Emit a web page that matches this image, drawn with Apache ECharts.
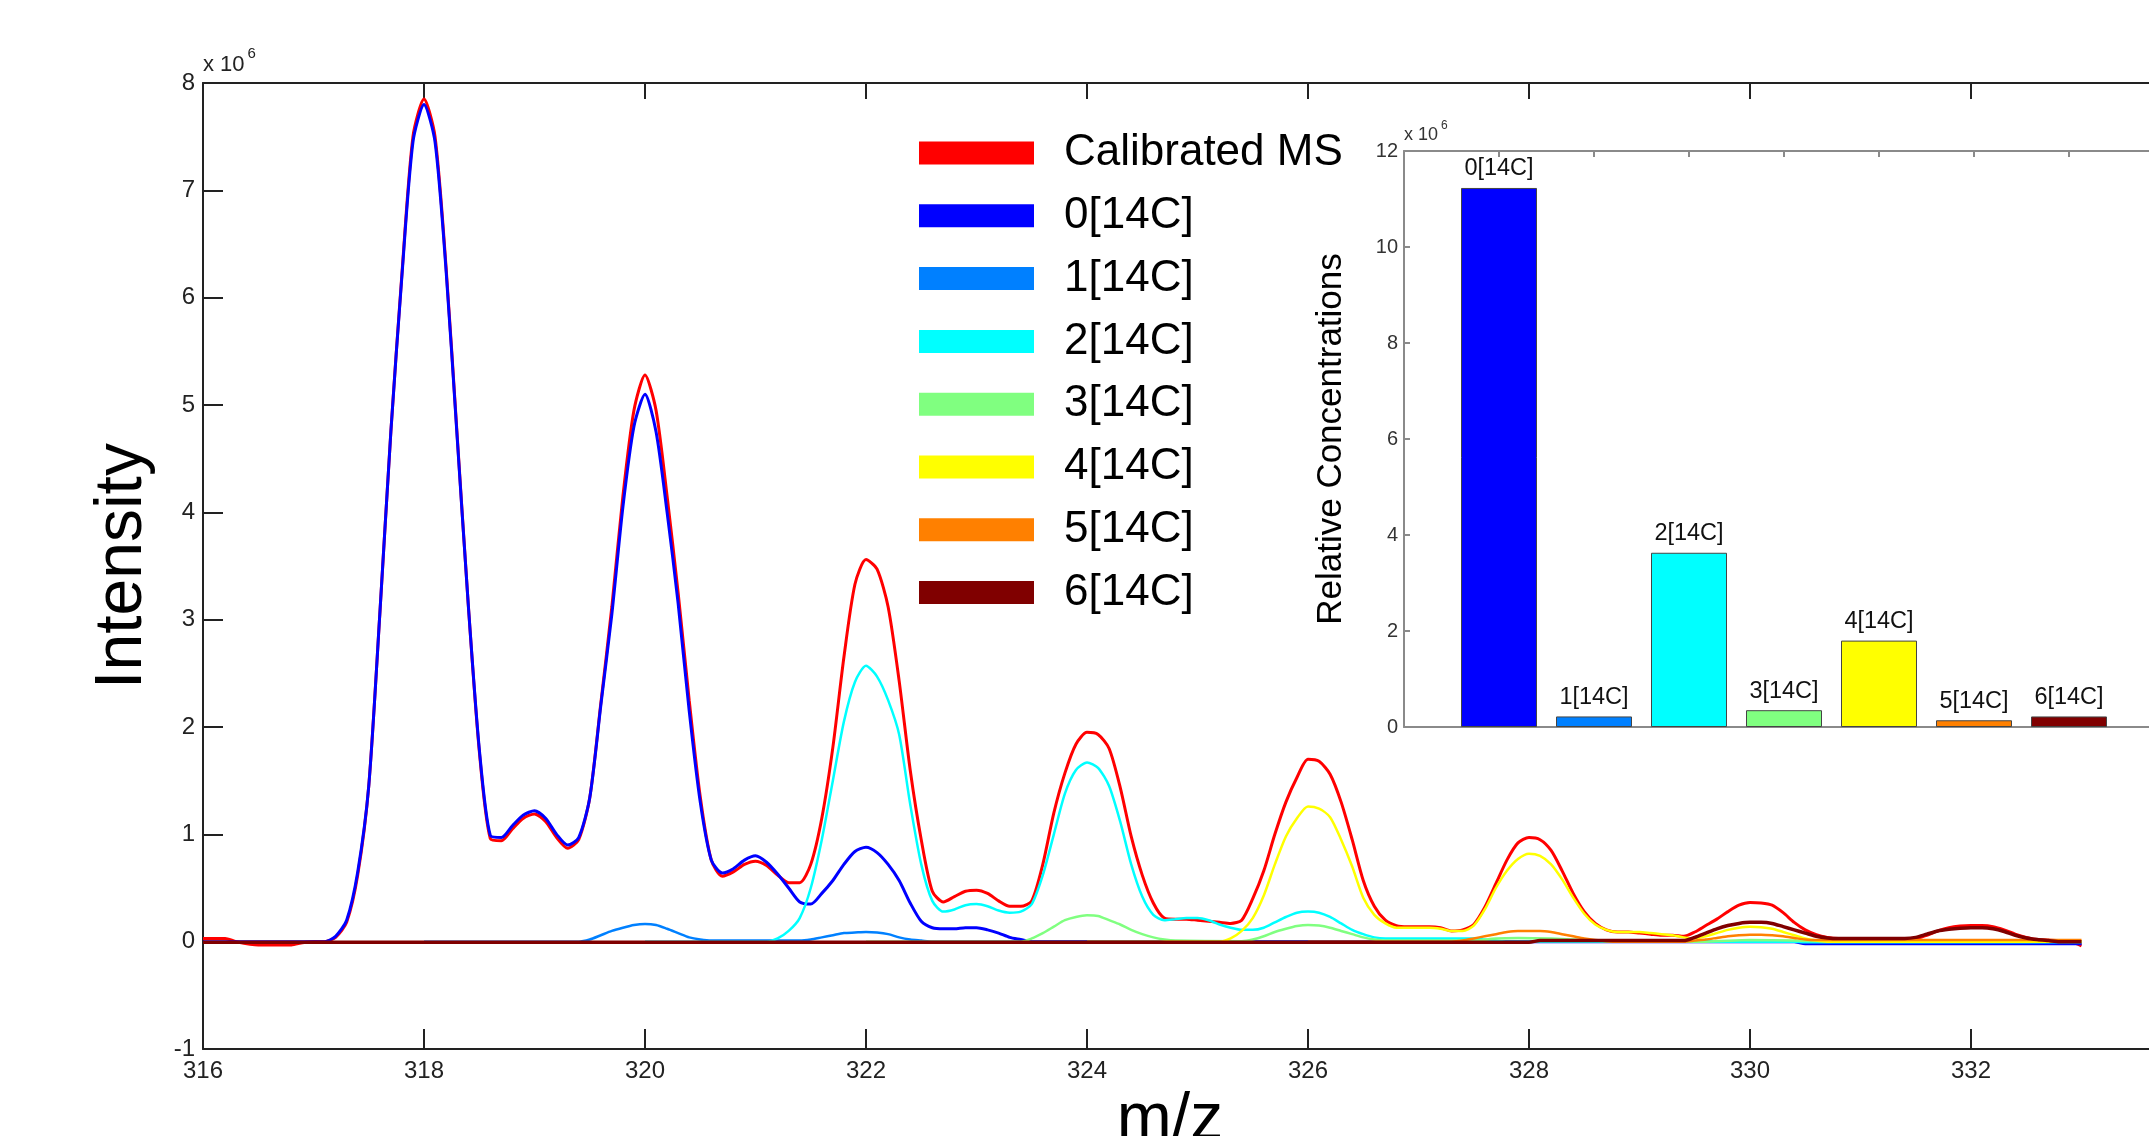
<!DOCTYPE html>
<html>
<head>
<meta charset="utf-8">
<title>Calibrated MS</title>
<script src="https://cdn.jsdelivr.net/npm/echarts@6/dist/echarts.min.js"></script>
<style>
html, body {margin: 0; padding: 0; background: #fff;}
#chart {width: 2149px; height: 1136px;}
</style>
</head>
<body>
<div id="chart"></div>
<script>
// intensities in units of 10^6
var calibrated = [[316.0,0.03],[316.2,0.03],[316.3,0.0],[316.5,-0.03],[316.8,-0.03],[316.9,-0.01],[317.0,0],[317.1,0],[317.2,0.04],[317.3,0.18],[317.4,0.62],[317.5,1.45],[317.6,3.05],[317.7,4.75],[317.8,6.22],[317.9,7.5],[318.0,7.85],[318.1,7.5],[318.2,6.28],[318.3,4.72],[318.4,3.15],[318.5,1.78],[318.6,0.96],[318.7,0.94],[318.8,1.05],[318.9,1.15],[319.0,1.19],[319.1,1.12],[319.2,0.97],[319.3,0.87],[319.4,0.95],[319.5,1.34],[319.6,2.22],[319.7,3.12],[319.8,4.15],[319.9,4.95],[320.0,5.28],[320.1,4.95],[320.2,4.15],[320.3,3.25],[320.4,2.25],[320.5,1.35],[320.6,0.76],[320.7,0.61],[320.8,0.65],[320.9,0.72],[321.0,0.75],[321.1,0.71],[321.2,0.62],[321.3,0.55],[321.4,0.55],[321.5,0.72],[321.6,1.15],[321.7,1.81],[321.8,2.65],[321.9,3.33],[322.0,3.56],[322.1,3.47],[322.2,3.12],[322.3,2.43],[322.4,1.6],[322.5,0.95],[322.6,0.47],[322.7,0.37],[322.8,0.42],[322.9,0.47],[323.0,0.48],[323.1,0.45],[323.2,0.38],[323.3,0.33],[323.4,0.33],[323.5,0.38],[323.6,0.72],[323.7,1.2],[323.8,1.57],[323.9,1.84],[324.0,1.95],[324.1,1.93],[324.2,1.8],[324.3,1.44],[324.4,0.98],[324.5,0.62],[324.6,0.36],[324.7,0.22],[324.8,0.21],[324.9,0.21],[325.0,0.2],[325.1,0.19],[325.2,0.18],[325.3,0.17],[325.4,0.2],[325.5,0.4],[325.6,0.66],[325.7,1.0],[325.8,1.3],[325.9,1.53],[326.0,1.7],[326.1,1.68],[326.2,1.56],[326.3,1.3],[326.4,0.95],[326.5,0.57],[326.6,0.33],[326.7,0.2],[326.8,0.15],[326.9,0.14],[327.1,0.14],[327.2,0.13],[327.3,0.1],[327.4,0.11],[327.5,0.16],[327.6,0.32],[327.7,0.54],[327.8,0.76],[327.9,0.92],[328.0,0.97],[328.1,0.95],[328.2,0.85],[328.3,0.66],[328.4,0.45],[328.5,0.28],[328.6,0.17],[328.7,0.11],[328.8,0.09],[328.9,0.09],[329.0,0.08],[329.1,0.07],[329.2,0.06],[329.3,0.06],[329.4,0.05],[329.5,0.09],[329.6,0.15],[329.7,0.21],[329.8,0.28],[329.9,0.34],[330.0,0.365],[330.1,0.36],[330.2,0.34],[330.3,0.27],[330.4,0.18],[330.5,0.11],[330.6,0.065],[330.7,0.04],[330.8,0.03],[331.5,0.03],[331.6,0.06],[331.7,0.1],[331.8,0.13],[331.9,0.145],[332.0,0.15],[332.1,0.15],[332.2,0.14],[332.3,0.11],[332.4,0.07],[332.5,0.04],[332.6,0.02],[332.8,0.01],[332.9,0.0],[333.0,-0.04]];
var c14_0 = [[316.0,0],[317.1,0],[317.2,0.05],[317.3,0.2],[317.4,0.65],[317.5,1.45],[317.6,3.05],[317.7,4.75],[317.8,6.2],[317.9,7.45],[318.0,7.8],[318.1,7.45],[318.2,6.25],[318.3,4.7],[318.4,3.15],[318.5,1.8],[318.6,0.99],[318.7,0.97],[318.8,1.08],[318.9,1.18],[319.0,1.22],[319.1,1.15],[319.2,1.0],[319.3,0.9],[319.4,0.97],[319.5,1.34],[319.6,2.2],[319.7,3.05],[319.8,4.05],[319.9,4.8],[320.0,5.1],[320.1,4.75],[320.2,4.0],[320.3,3.15],[320.4,2.15],[320.5,1.3],[320.6,0.76],[320.7,0.64],[320.8,0.68],[320.9,0.76],[321.0,0.8],[321.1,0.74],[321.2,0.63],[321.3,0.5],[321.4,0.37],[321.5,0.35],[321.6,0.45],[321.7,0.57],[321.8,0.72],[321.9,0.84],[322.0,0.88],[322.1,0.83],[322.2,0.72],[322.3,0.57],[322.4,0.36],[322.5,0.19],[322.6,0.13],[322.7,0.12],[322.8,0.12],[322.9,0.13],[323.0,0.13],[323.1,0.11],[323.2,0.08],[323.3,0.04],[323.4,0.02],[323.5,0],[330.4,0],[330.5,-0.02],[333.0,-0.02]];
var c14_1 = [[318.0,0],[319.4,0],[319.5,0.02],[319.6,0.06],[319.7,0.1],[319.8,0.13],[319.9,0.155],[320.0,0.165],[320.1,0.155],[320.2,0.12],[320.3,0.08],[320.4,0.04],[320.5,0.02],[320.6,0.01],[321.4,0.01],[321.5,0.02],[321.6,0.04],[321.7,0.06],[321.8,0.08],[321.9,0.085],[322.0,0.09],[322.1,0.085],[322.2,0.07],[322.3,0.04],[322.4,0.02],[322.5,0.01],[322.6,0],[330.4,0],[330.5,-0.01],[333.0,-0.01]];
var c14_2 = [[320.0,0],[321.1,0],[321.2,0.03],[321.3,0.1],[321.4,0.22],[321.5,0.5],[321.6,0.95],[321.7,1.5],[321.8,2.05],[321.9,2.42],[322.0,2.57],[322.1,2.47],[322.2,2.25],[322.3,1.93],[322.4,1.28],[322.5,0.72],[322.6,0.38],[322.7,0.28],[322.8,0.3],[322.9,0.34],[323.0,0.35],[323.1,0.33],[323.2,0.29],[323.3,0.27],[323.4,0.28],[323.5,0.35],[323.6,0.62],[323.7,1.0],[323.8,1.38],[323.9,1.6],[324.0,1.67],[324.1,1.62],[324.2,1.45],[324.3,1.12],[324.4,0.72],[324.5,0.42],[324.6,0.25],[324.7,0.2],[324.8,0.21],[324.9,0.22],[325.0,0.22],[325.1,0.2],[325.2,0.16],[325.3,0.13],[325.4,0.11],[325.5,0.11],[325.6,0.13],[325.7,0.18],[325.8,0.23],[325.9,0.27],[326.0,0.28],[326.1,0.27],[326.2,0.23],[326.3,0.17],[326.4,0.11],[326.5,0.07],[326.6,0.04],[326.7,0.03],[327.5,0.03],[327.6,0.02],[327.7,0.01],[327.8,0],[333.0,0]];
var c14_3 = [[322.0,0],[323.4,0],[323.5,0.03],[323.6,0.08],[323.7,0.14],[323.8,0.2],[323.9,0.23],[324.0,0.245],[324.1,0.24],[324.2,0.2],[324.3,0.16],[324.4,0.11],[324.5,0.07],[324.6,0.04],[324.7,0.02],[324.8,0.01],[325.4,0.005],[325.5,0.02],[325.6,0.05],[325.7,0.09],[325.8,0.12],[325.9,0.145],[326.0,0.155],[326.1,0.15],[326.2,0.13],[326.3,0.1],[326.4,0.07],[326.5,0.04],[326.6,0.02],[326.7,0.01],[327.5,0.01],[327.7,0.03],[327.9,0.035],[328.2,0.03],[328.4,0.02],[328.6,0.01],[328.8,0],[329.6,0],[330.0,0.015],[330.4,0.01],[330.8,0],[333.0,0]];
var c14_4 = [[324.0,0],[325.2,0],[325.3,0.03],[325.4,0.1],[325.5,0.22],[325.6,0.43],[325.7,0.72],[325.8,0.98],[325.9,1.15],[326.0,1.26],[326.1,1.24],[326.2,1.16],[326.3,0.95],[326.4,0.7],[326.5,0.41],[326.6,0.25],[326.7,0.17],[326.8,0.13],[327.1,0.13],[327.2,0.12],[327.3,0.1],[327.4,0.1],[327.5,0.15],[327.6,0.3],[327.7,0.5],[327.8,0.66],[327.9,0.77],[328.0,0.82],[328.1,0.8],[328.2,0.72],[328.3,0.58],[328.4,0.41],[328.5,0.26],[328.6,0.16],[328.7,0.11],[328.8,0.09],[329.0,0.09],[329.1,0.08],[329.2,0.07],[329.3,0.06],[329.4,0.04],[329.5,0.03],[329.6,0.05],[329.7,0.08],[329.8,0.11],[329.9,0.13],[330.0,0.14],[330.1,0.135],[330.2,0.12],[330.3,0.09],[330.4,0.06],[330.5,0.03],[330.6,0.01],[330.7,0],[333.0,0]];
var c14_5 = [[326.0,0],[327.3,0],[327.4,0.01],[327.5,0.03],[327.6,0.05],[327.7,0.07],[327.8,0.09],[327.9,0.1],[328.1,0.1],[328.2,0.09],[328.3,0.07],[328.4,0.05],[328.5,0.03],[328.6,0.015],[328.7,0.005],[328.8,0],[329.4,0],[329.5,0.01],[329.6,0.02],[329.7,0.035],[329.8,0.05],[329.9,0.06],[330.0,0.065],[330.1,0.065],[330.2,0.06],[330.3,0.05],[330.4,0.035],[330.5,0.02],[330.6,0.015],[333.0,0.015]];
var c14_6 = [[316.0,-0.005],[328.0,-0.005],[328.1,0.01],[329.4,0.01],[329.5,0.04],[329.6,0.08],[329.7,0.12],[329.8,0.15],[329.9,0.17],[330.0,0.18],[330.1,0.18],[330.2,0.17],[330.3,0.14],[330.4,0.11],[330.5,0.08],[330.6,0.05],[330.7,0.035],[330.8,0.03],[331.4,0.03],[331.5,0.04],[331.6,0.07],[331.7,0.1],[331.8,0.115],[331.9,0.125],[332.0,0.13],[332.1,0.13],[332.2,0.12],[332.3,0.095],[332.4,0.06],[332.5,0.035],[332.6,0.02],[332.7,0.01],[332.8,0],[333.0,0]];

var lineNames = ['Calibrated MS', '0[14C]', '1[14C]', '2[14C]', '3[14C]', '4[14C]', '5[14C]', '6[14C]'];
var lineColors = ['#ff0000', '#0000ff', '#0080ff', '#00ffff', '#80ff80', '#ffff00', '#ff8000', '#800000'];
var lineWidths = [3, 3, 2.5, 2.5, 2.5, 2.5, 2.5, 3.5];
var lineData = [calibrated, c14_0, c14_1, c14_2, c14_3, c14_4, c14_5, c14_6];

// inset: relative concentrations (x 10^6)
var barNames = ['0[14C]', '1[14C]', '2[14C]', '3[14C]', '4[14C]', '5[14C]', '6[14C]'];
var barPos = [1, 2, 3, 4, 5, 6, 7];
var barValues = [11.23, 0.22, 3.63, 0.35, 1.80, 0.14, 0.22];
var barColors = ['#0000ff', '#0080ff', '#00ffff', '#80ff80', '#ffff00', '#ff8000', '#800000'];

var FONT = 'Liberation Sans, Arial, sans-serif';

function initChart() {
    var myChart = echarts.init(document.getElementById('chart'));

    var series = [];
    for (var i = 0; i < lineData.length; i++) {
        series.push({
            name: lineNames[i],
            type: 'line',
            xAxisIndex: 0,
            yAxisIndex: 0,
            data: lineData[i],
            color: lineColors[i],
            showSymbol: false,
            smooth: 0.25,
            lineStyle: {color: lineColors[i], width: lineWidths[i]},
            itemStyle: {color: lineColors[i]},
            emphasis: {disabled: true},
            animation: false
        });
    }

    var bars = [];
    for (var j = 0; j < barValues.length; j++) {
        bars.push({
            value: [barPos[j], barValues[j]],
            itemStyle: {color: barColors[j], borderColor: '#444', borderWidth: 1}
        });
    }
    series.push({
        name: 'Relative Concentrations',
        type: 'bar',
        xAxisIndex: 2,
        yAxisIndex: 1,
        data: bars,
        barWidth: 76,
        z: 3,
        label: {
            show: true,
            position: 'top',
            distance: 7,
            fontFamily: FONT,
            fontSize: 23.5,
            color: '#111',
            formatter: function (p) { return barNames[p.dataIndex]; }
        },
        emphasis: {disabled: true},
        animation: false
    });

    var axisLine = {show: true, onZero: false, lineStyle: {color: '#222', width: 2}};
    var insetLine = {show: true, onZero: false, lineStyle: {color: '#8a8a8a', width: 2}};

    var option = {
        backgroundColor: '#fff',
        animation: false,
        textStyle: {fontFamily: FONT},
        legend: {
            data: lineNames,
            orient: 'vertical',
            left: 914,
            top: 126,
            itemWidth: 115,
            itemHeight: 23,
            itemGap: 18.8,
            icon: 'rect',
            selectedMode: false,
            textStyle: {fontFamily: FONT, fontSize: 44, lineHeight: 40, color: '#000', padding: [0, 0, 0, 25]}
        },
        grid: [
            {left: 203, top: 83, right: -43, bottom: 87, outerBoundsMode: 'none', containLabel: false},
            {left: 1404, top: 151, right: -15, bottom: 409, outerBoundsMode: 'none', containLabel: false,
             show: true, backgroundColor: '#fff', borderWidth: 0}
        ],
        xAxis: [
            {
                type: 'value', gridIndex: 0, min: 316, max: 334, interval: 2,
                axisLine: axisLine,
                axisTick: {show: true, inside: true, length: 20, lineStyle: {color: '#222', width: 2}},
                axisLabel: {fontSize: 24, color: '#222', margin: 10, fontFamily: FONT},
                splitLine: {show: false},
                name: 'm/z', nameLocation: 'middle', nameGap: 26,
                nameTextStyle: {fontSize: 66, color: '#000', fontFamily: FONT, padding: [0, 55, 0, 0]}
            },
            {
                type: 'value', gridIndex: 0, position: 'top', min: 316, max: 334, interval: 2,
                axisLine: axisLine,
                axisTick: {show: true, inside: true, length: 16, lineStyle: {color: '#222', width: 2}},
                axisLabel: {show: false},
                splitLine: {show: false}
            },
            {
                type: 'value', gridIndex: 1, min: 0, max: 8, interval: 1,
                axisLine: insetLine,
                axisTick: {show: false},
                axisLabel: {show: false},
                splitLine: {show: false}
            },
            {
                type: 'value', gridIndex: 1, position: 'top', min: 0, max: 8, interval: 1,
                axisLine: insetLine,
                axisTick: {show: true, inside: true, length: 6, lineStyle: {color: '#8a8a8a', width: 2}},
                axisLabel: {show: false},
                splitLine: {show: false}
            }
        ],
        yAxis: [
            {
                type: 'value', gridIndex: 0, position: 'left', min: -1, max: 8, interval: 1,
                axisLine: axisLine,
                axisTick: {show: true, inside: true, length: 20, lineStyle: {color: '#222', width: 2}},
                axisLabel: {fontSize: 24, color: '#222', margin: 8, fontFamily: FONT},
                splitLine: {show: false},
                name: 'Intensity', nameLocation: 'middle', nameGap: 47,
                nameTextStyle: {fontSize: 66, color: '#000', fontFamily: FONT}
            },
            {
                type: 'value', gridIndex: 1, position: 'left', min: 0, max: 12, interval: 2,
                axisLine: insetLine,
                axisTick: {show: true, inside: true, length: 6, lineStyle: {color: '#8a8a8a', width: 2}},
                axisLabel: {fontSize: 20, color: '#333', margin: 6, fontFamily: FONT},
                splitLine: {show: false},
                name: 'Relative Concentrations', nameLocation: 'middle', nameGap: 55,
                nameTextStyle: {fontSize: 35, color: '#000', fontFamily: FONT}
            },
            {
                // exponent label of the main axis
                type: 'value', gridIndex: 0, position: 'left', offset: 0, min: -1, max: 8, interval: 1,
                axisLine: {show: false}, axisTick: {show: false}, axisLabel: {show: false},
                splitLine: {show: false},
                name: '{a|x 10}{b|6}', nameLocation: 'end', nameGap: 7,
                nameTextStyle: {
                    align: 'left', verticalAlign: 'bottom', color: '#222',
                    rich: {
                        a: {fontSize: 22, fontFamily: FONT, color: '#222', lineHeight: 30, verticalAlign: 'bottom'},
                        b: {fontSize: 15, fontFamily: FONT, color: '#222', lineHeight: 14, verticalAlign: 'top', padding: [0, 0, 0, 3]}
                    }
                }
            },
            {
                // exponent label of the inset axis
                type: 'value', gridIndex: 1, position: 'left', offset: 0, min: 0, max: 12, interval: 2,
                axisLine: {show: false}, axisTick: {show: false}, axisLabel: {show: false},
                splitLine: {show: false},
                name: '{a|x 10}{b|6}', nameLocation: 'end', nameGap: 7,
                nameTextStyle: {
                    align: 'left', verticalAlign: 'bottom', color: '#333',
                    rich: {
                        a: {fontSize: 18, fontFamily: FONT, color: '#333', lineHeight: 24, verticalAlign: 'bottom'},
                        b: {fontSize: 12, fontFamily: FONT, color: '#333', lineHeight: 12, verticalAlign: 'top', padding: [0, 0, 0, 3]}
                    }
                }
            }
        ],
        series: series
    };
    myChart.setOption(option);
}

initChart();
</script>
</body>
</html>
